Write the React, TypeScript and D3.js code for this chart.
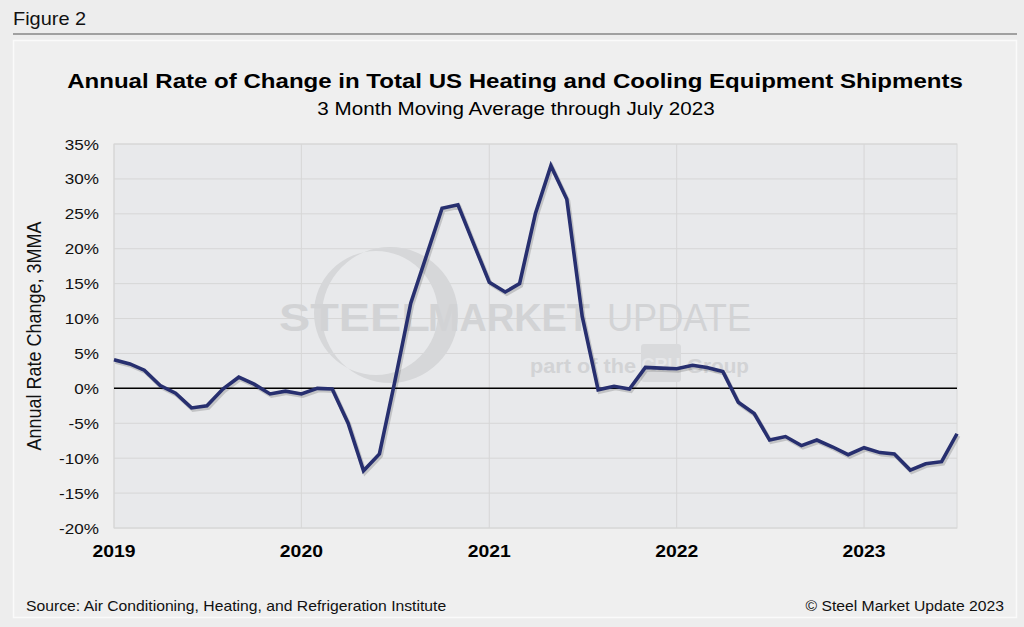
import React, { useEffect, useRef } from "react";
import * as d3 from "d3";

// monthly 3MMA annual rate of change, Jan 2019 .. Jul 2023
const startMonth = new Date(2019, 0, 1);
const values: number[] = [
  4.1, 3.5, 2.6, 0.4, -0.7, -2.8, -2.5, -0.1, 1.6, 0.6, -0.8, -0.4,
  -0.8, 0.0, -0.1, -5.0, -11.8, -9.4, 1.0, 12.2, 19.1, 25.8, 26.3, 20.8,
  15.2, 13.8, 15.0, 25.1, 31.9, 27.1, 10.3, -0.2, 0.3, -0.1, 3.0, 2.9,
  2.8, 3.3, 3.0, 2.4, -2.0, -3.6, -7.4, -6.9, -8.2, -7.4, -8.4, -9.5,
  -8.5, -9.2, -9.4, -11.7, -10.8, -10.5, -6.5,
];
const yTicks = [35, 30, 25, 20, 15, 10, 5, 0, -5, -10, -15, -20];
const yearTicks = [2019, 2020, 2021, 2022, 2023];

const W = 1024;
const H = 627;
const plot = { left: 114, right: 957, top: 144, bottom: 528 };
const font = "'Liberation Sans', Arial, sans-serif";
const SX = 1.14; // the original picture is a little stretched sideways

type Sel = d3.Selection<SVGGElement, unknown, null, undefined>;

function txt(
  g: Sel,
  x: number,
  y: number,
  s: string,
  size: number,
  opts: { anchor?: string; bold?: boolean; fill?: string } = {}
) {
  return g
    .append("text")
    .attr("transform", `translate(${x},${y}) scale(${SX},1)`)
    .attr("text-anchor", opts.anchor ?? "start")
    .attr("font-family", font)
    .attr("font-size", size)
    .attr("font-weight", opts.bold ? "bold" : "normal")
    .attr("fill", opts.fill ?? "#111")
    .text(s);
}

const App: React.FC = () => {
  const ref = useRef<SVGSVGElement | null>(null);

  useEffect(() => {
    if (!ref.current) return;
    const svg = d3.select(ref.current);
    svg.selectAll("*").remove();
    const root = svg.append("g") as unknown as Sel;

    const data = values.map((v, i) => ({
      date: d3.timeMonth.offset(startMonth, i),
      v,
    }));

    const x = d3
      .scaleTime()
      .domain([startMonth, data[data.length - 1].date])
      .range([plot.left, plot.right]);
    const y = d3.scaleLinear().domain([-20, 35]).range([plot.bottom, plot.top]);

    // backgrounds
    root.append("rect").attr("width", W).attr("height", H).attr("fill", "#ededed");
    root
      .append("rect")
      .attr("x", 13.5)
      .attr("y", 40.5)
      .attr("width", 1003)
      .attr("height", 577)
      .attr("fill", "#efefef")
      .attr("stroke", "#fafafa")
      .attr("stroke-width", 1.5);

    txt(root, 13, 25, "Figure 2", 17.5, { fill: "#111" });
    root
      .append("line")
      .attr("x1", 13)
      .attr("x2", 1017)
      .attr("y1", 34)
      .attr("y2", 34)
      .attr("stroke", "#555")
      .attr("stroke-width", 1.2);

    // titles
    txt(root, 515, 88, "Annual Rate of Change in Total US Heating and Cooling Equipment Shipments", 21.1, {
      anchor: "middle",
      bold: true,
      fill: "#000",
    });
    txt(root, 516, 115, "3 Month Moving Average through July 2023", 18.1, {
      anchor: "middle",
      fill: "#000",
    });

    // plot area
    root
      .append("rect")
      .attr("x", plot.left)
      .attr("y", plot.top)
      .attr("width", plot.right - plot.left)
      .attr("height", plot.bottom - plot.top)
      .attr("fill", "#e8e9eb")
      .attr("stroke", "#d8d8d8");

    const grid = root.append("g").attr("stroke", "#d6d6d6").attr("stroke-width", 1);
    yTicks.forEach((t) => {
      grid
        .append("line")
        .attr("x1", plot.left)
        .attr("x2", plot.right)
        .attr("y1", y(t))
        .attr("y2", y(t));
    });
    yearTicks.forEach((yr) => {
      const xx = x(new Date(yr, 0, 1));
      grid
        .append("line")
        .attr("x1", xx)
        .attr("x2", xx)
        .attr("y1", plot.top)
        .attr("y2", plot.bottom);
    });

    // watermark
    const wm = root.append("g").attr("font-family", font);
    const wmFill = "#d2d3d5";
    wm.append("path")
      .attr(
        "d",
        "M 390 247 A 68 68 0 1 1 390 383 A 68 68 0 1 1 390 247 Z " +
          "M 376 251 A 62 62 0 1 0 376 375 A 62 62 0 1 0 376 251 Z"
      )
      .attr("fill-rule", "evenodd")
      .attr("fill", "#d6d7d9");
    const word = (x0: number, len: number, s: string, bold: boolean) =>
      wm
        .append("text")
        .attr("x", x0)
        .attr("y", 331)
        .attr("font-size", 39)
        .attr("font-weight", bold ? "bold" : "normal")
        .attr("textLength", len)
        .attr("lengthAdjust", "spacingAndGlyphs")
        .attr("fill", wmFill)
        .text(s);
    word(279, 151, "STEEL", true);
    word(428, 162, "MARKET", true);
    word(607, 144, "UPDATE", false);
    wm.append("text")
      .attr("x", 530)
      .attr("y", 373)
      .attr("font-size", 20)
      .attr("font-weight", "bold")
      .attr("textLength", 106)
      .attr("lengthAdjust", "spacingAndGlyphs")
      .attr("fill", wmFill)
      .text("part of the");
    wm.append("rect")
      .attr("x", 641)
      .attr("y", 344)
      .attr("width", 40)
      .attr("height", 38)
      .attr("rx", 3)
      .attr("fill", "#d9dadc");
    wm.append("text")
      .attr("x", 661)
      .attr("y", 371)
      .attr("text-anchor", "middle")
      .attr("font-size", 18)
      .attr("font-weight", "bold")
      .attr("fill", "#e6e7e9")
      .text("CRU");
    wm.append("text")
      .attr("x", 687)
      .attr("y", 373)
      .attr("font-size", 20)
      .attr("font-weight", "bold")
      .attr("textLength", 62)
      .attr("lengthAdjust", "spacingAndGlyphs")
      .attr("fill", wmFill)
      .text("Group");

    // zero line
    root
      .append("line")
      .attr("x1", plot.left)
      .attr("x2", plot.right)
      .attr("y1", y(0))
      .attr("y2", y(0))
      .attr("stroke", "#000")
      .attr("stroke-width", 1.5);

    // axis labels
    yTicks.forEach((t) => {
      txt(root, 99, y(t) + 5.5, `${t}%`, 15, { anchor: "end" });
    });
    yearTicks.forEach((yr) => {
      txt(root, x(new Date(yr, 0, 1)), 557, String(yr), 17, {
        anchor: "middle",
        bold: true,
        fill: "#000",
      });
    });
    root
      .append("text")
      .attr("transform", `translate(41,${(plot.top + plot.bottom) / 2}) rotate(-90) scale(1,1.1)`)
      .attr("text-anchor", "middle")
      .attr("font-family", font)
      .attr("font-size", 18)
      .attr("fill", "#111")
      .text("Annual Rate Change, 3MMA");

    // series
    const line = d3
      .line<{ date: Date; v: number }>()
      .x((d) => x(d.date))
      .y((d) => y(d.v));
    root
      .append("path")
      .datum(data)
      .attr("d", line)
      .attr("fill", "none")
      .attr("stroke", "rgba(0,0,0,0.16)")
      .attr("stroke-width", 4)
      .attr("transform", "translate(1.5,2)");
    root
      .append("path")
      .datum(data)
      .attr("d", line)
      .attr("fill", "none")
      .attr("stroke", "#272f6f")
      .attr("stroke-width", 3.6);

    // footer
    txt(root, 26, 611, "Source: Air Conditioning, Heating, and Refrigeration Institute", 13.8);
    txt(root, 1004, 611, "© Steel Market Update 2023", 13.8, { anchor: "end" });
  }, []);

  return <svg ref={ref} width={W} height={H} style={{ position: "absolute", left: 0, top: 0 }} />;
};

export default App;
